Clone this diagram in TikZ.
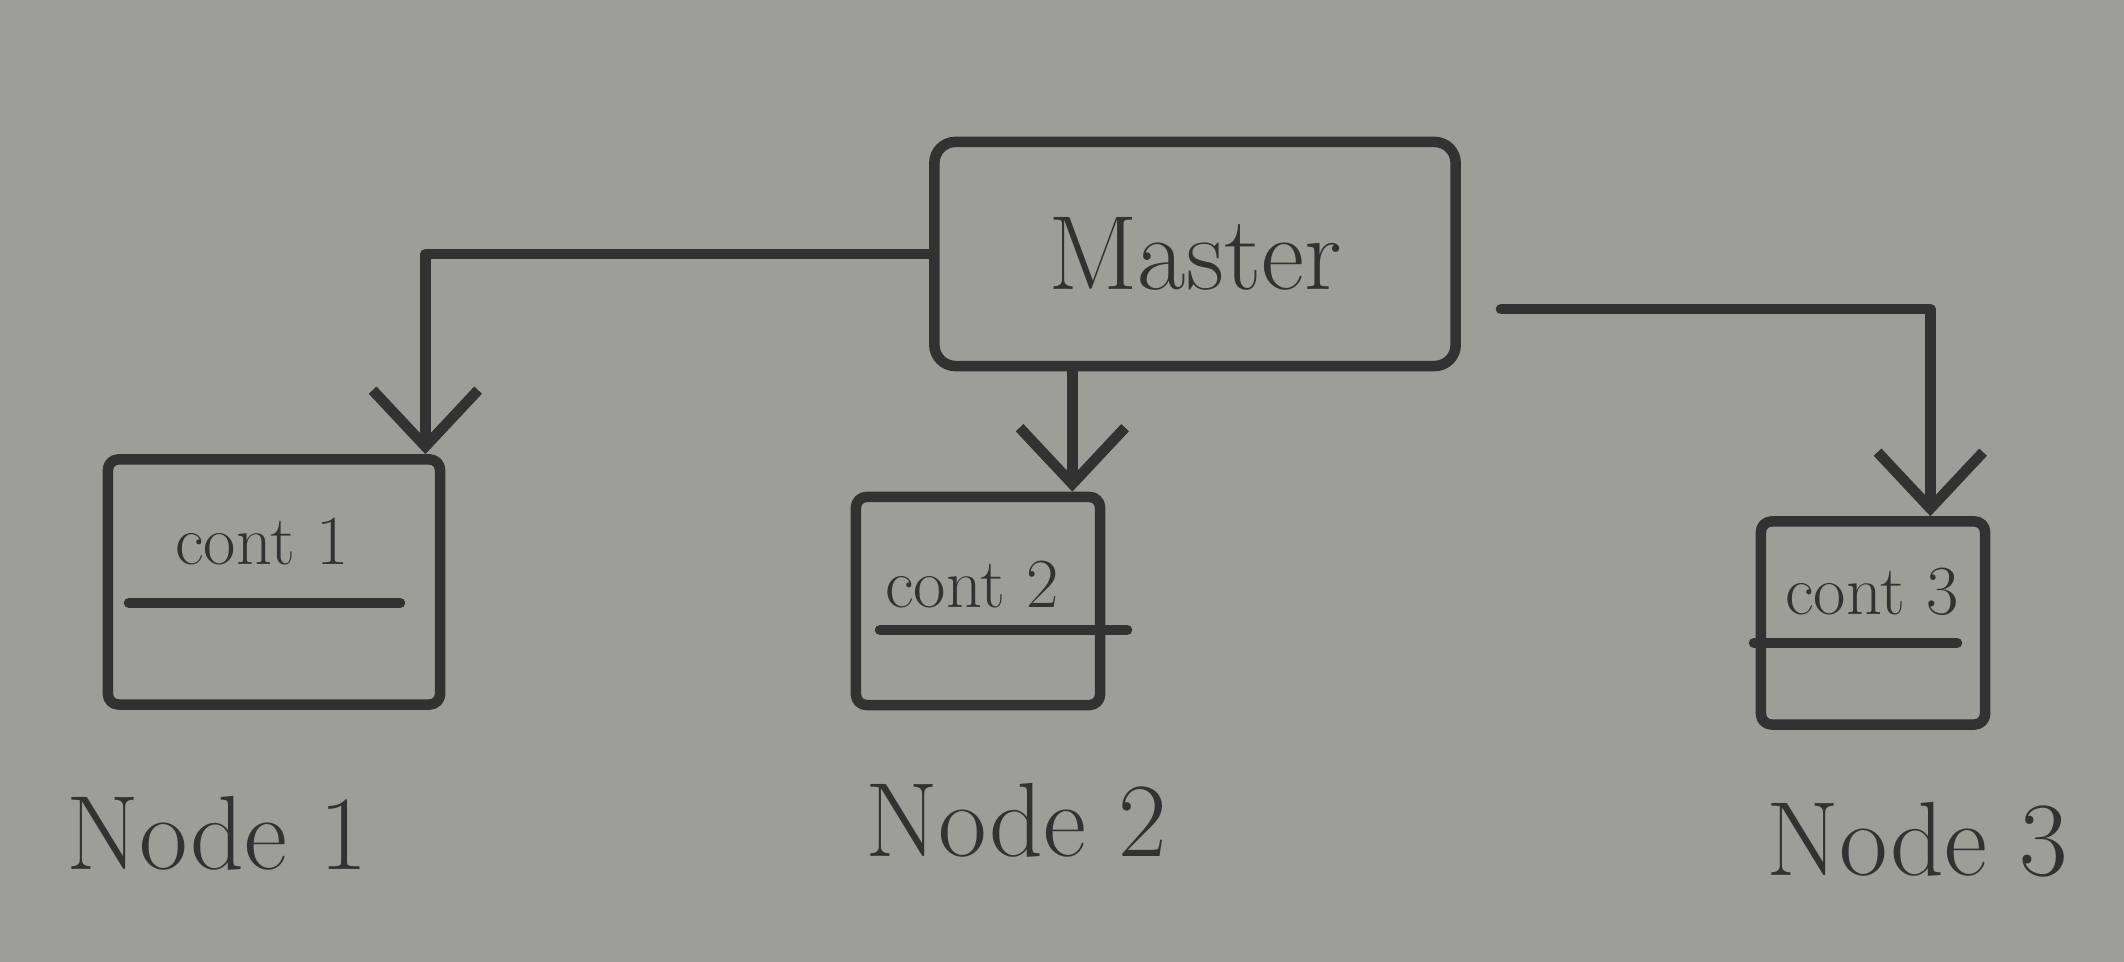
\documentclass[tikz,border=0pt]{standalone}
\usetikzlibrary{arrows.meta,positioning}
\definecolor{paper}{RGB}{158,158,152}
\definecolor{pencil}{RGB}{50,50,50}
\begin{document}
\begin{tikzpicture}
[x=0.01cm, y=-0.01cm, color=pencil, line width=3pt, line join=round, line cap=round,
 >={Straight Barb[length=16pt,width=30pt]},
 masterbox/.style={draw, rounded corners=6pt, minimum width=5.21cm, minimum height=2.24cm, font=\fontsize{30}{36}\selectfont},
 contbox/.style={draw, rounded corners=3pt},
 contlabel/.style={font=\fontsize{20}{24}\selectfont},
 nodelabel/.style={font=\fontsize{30}{36}\selectfont}]
\fill[paper] (0,0) rectangle (2124,962);
\useasboundingbox (0,0) rectangle (2124,962);
% master and the three containers
\node[masterbox] (master) at (1195,254) {Master};
\node[contbox, minimum width=3.32cm, minimum height=2.45cm] (cont1) at (274,582) {};
\node[contbox, minimum width=2.44cm, minimum height=2.08cm] (cont2) at (978,601) {};
\node[contbox, minimum width=2.24cm, minimum height=2.03cm] (cont3) at (1873,623) {};
\foreach \i/\tx/\ty/\ul/\ur/\uy in {1/262/542/129/400/603, 2/972/585/880/1127/630, 3/1872/592/1754/1957/643}
{
\node[contlabel] (ct\i) at (\tx,\ty) {cont \i};
\draw (\ul,\uy) -- (\ur,\uy);
}
\node[nodelabel] (node1) at (217,833) {Node 1};
\node[nodelabel] (node2) at (1016,820) {Node 2};
\node[nodelabel] (node3) at (1917,840) {Node 3};
% connectors
\coordinate (in1) at ([xshift=-0.2cm]cont1.north east);
\coordinate (in2) at ([xshift=-0.33cm]cont2.north east);
\coordinate (in3) at ([xshift=-0.6cm]cont3.north east);
\coordinate (out3) at ([xshift=0.4cm, yshift=-0.55cm]master.east);
\draw[->] (master.west) -| (in1);
\draw[->] (master.south -| in2) -- (in2);
\draw[->] (out3) -| (in3);
\end{tikzpicture}
\end{document}
